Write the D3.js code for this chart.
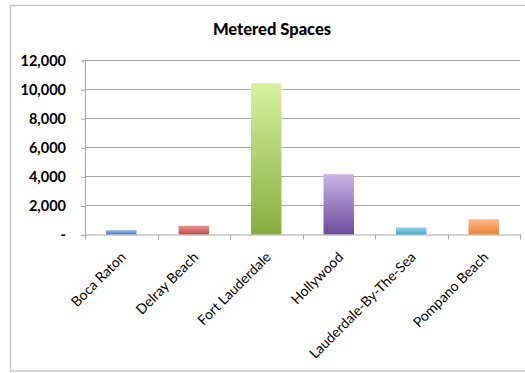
<!DOCTYPE html>
<html>
<head>
<meta charset="utf-8">
<script src="https://cdn.jsdelivr.net/npm/d3@7"></script>
<style>
  html, body { margin: 0; padding: 0; background: #fff; }
  svg { display: block; }
  text { font-family: Lato, "Open Sans", sans-serif; fill: #000; }
</style>
</head>
<body>
<svg id="chart" width="525" height="373"></svg>
<script>
// Metered parking spaces by city
const cities = ["Boca Raton", "Delray Beach", "Fort Lauderdale", "Hollywood", "Lauderdale-By-The-Sea", "Pompano Beach"];
const spaces = [300, 600, 10400, 4150, 490, 1050];
const yTicks = [0, 2000, 4000, 6000, 8000, 10000, 12000];
const topColors = ["#9bb8e6", "#e89494", "#d6f2a2", "#c9b6e4", "#96d8ee", "#fdb888"];
const bottomColors = ["#4a7ac2", "#bd4b48", "#88ad3e", "#6c4b9c", "#3ea6cc", "#ef8434"];

const svg = d3.select("#chart");

// outer chart frame
svg.append("rect")
  .attr("x", 10.5).attr("y", 5.5)
  .attr("width", 530).attr("height", 365.5)
  .attr("fill", "#fff").attr("stroke", "#c8c8c8").attr("stroke-width", 1.5);

const plot = { left: 85, right: 520, top: 60, bottom: 234.5 };

const x = d3.scaleBand().domain(cities).range([plot.left, plot.right]).paddingInner(0.58).paddingOuter(0.29);
const xEdges = d3.scaleLinear().domain([0, cities.length]).range([plot.left, plot.right]);
const y = d3.scaleLinear().domain([0, 12000]).range([plot.bottom, plot.top]);

// vertical gradients per bar
const defs = svg.append("defs");
cities.forEach((c, i) => {
  const g = defs.append("linearGradient").attr("id", "grad" + i)
    .attr("x1", 0).attr("y1", 0).attr("x2", 0).attr("y2", 1);
  g.append("stop").attr("offset", "0%").attr("stop-color", topColors[i]);
  g.append("stop").attr("offset", "100%").attr("stop-color", bottomColors[i]);
});

// gridlines
svg.append("g").selectAll("line").data(yTicks.filter(t => t > 0)).join("line")
  .attr("x1", plot.left).attr("x2", plot.right)
  .attr("y1", d => Math.round(y(d)) + 0.5).attr("y2", d => Math.round(y(d)) + 0.5)
  .attr("stroke", "#a6a6a6").attr("stroke-width", 1);

// y axis
const yAxis = d3.axisLeft(y).tickValues(yTicks).tickSize(4).tickPadding(15)
  .tickFormat(d => d === 0 ? "-" : d3.format(",")(d));
const yg = svg.append("g").attr("transform", `translate(${plot.left},0.5)`).call(yAxis);
yg.select(".domain").attr("stroke", "#a6a6a6");
yg.selectAll(".tick line").attr("stroke", "#a6a6a6");
yg.selectAll("text").style("font-size", "14.5px").style("font-weight", "bold")
  .style("font-family", "Lato, sans-serif").attr("fill", "#000");

// bars
svg.append("g").selectAll("rect").data(cities).join("rect")
  .attr("x", d => x(d))
  .attr("width", x.bandwidth())
  .attr("y", (d, i) => y(spaces[i]))
  .attr("height", (d, i) => y(0) - y(spaces[i]))
  .attr("fill", (d, i) => `url(#grad${i})`);

// x axis line and category separators
const xg = svg.append("g");
xg.append("line").attr("x1", plot.left).attr("x2", plot.right)
  .attr("y1", plot.bottom + 0.5).attr("y2", plot.bottom + 0.5)
  .attr("stroke", "#a6a6a6");
xg.selectAll("line.sep").data(d3.range(cities.length + 1)).join("line").attr("class", "sep")
  .attr("x1", d => Math.round(xEdges(d)) + 0.5).attr("x2", d => Math.round(xEdges(d)) + 0.5)
  .attr("y1", plot.bottom).attr("y2", plot.bottom + 5)
  .attr("stroke", "#a6a6a6");

// rotated category labels
xg.selectAll("text").data(cities).join("text")
  .attr("transform", d => `translate(${x(d) + x.bandwidth() / 2 + 2},${plot.bottom + 20}) rotate(-45)`)
  .attr("text-anchor", "end")
  .attr("dy", "0.35em")
  .style("font-size", "14px")
  .text(d => d);

// title
svg.append("text")
  .attr("x", 272).attr("y", 35)
  .attr("text-anchor", "middle")
  .style("font-size", "16.5px").style("font-weight", "900")
  .text("Metered Spaces");
</script>
</body>
</html>
